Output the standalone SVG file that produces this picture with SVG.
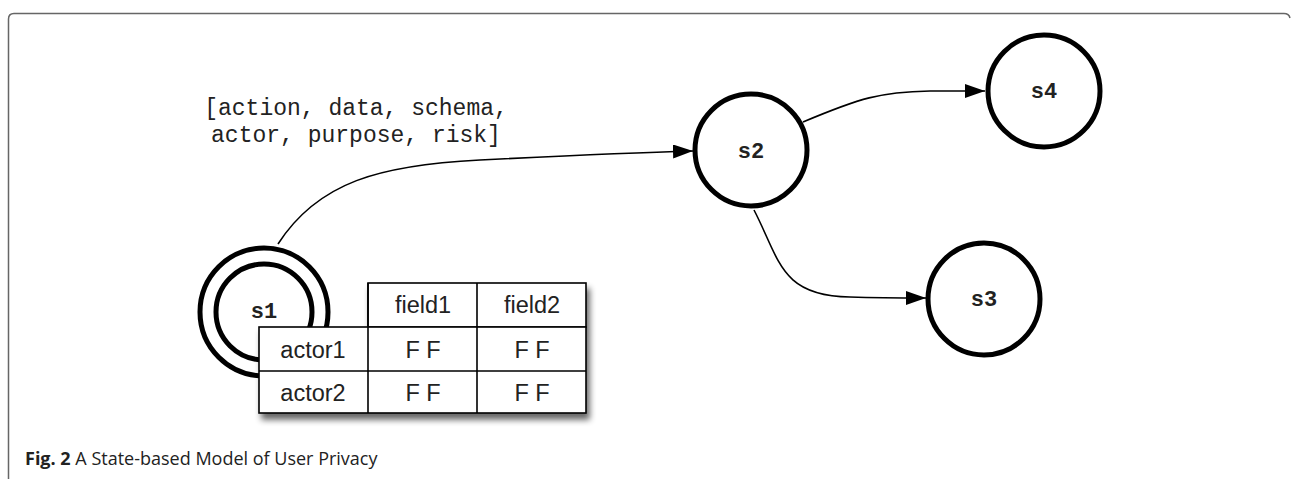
<svg xmlns="http://www.w3.org/2000/svg" width="1292" height="479" viewBox="0 0 1292 479">
<style>
.state{fill:#fff;stroke:#000;stroke-width:5}
.st{font-family:"Liberation Mono","Courier New",monospace;font-weight:bold;font-size:22px;fill:#222;text-anchor:middle}
.lbl{font-family:"Liberation Mono","Courier New",monospace;font-size:23px;fill:#222;text-anchor:middle}
.edge{fill:none;stroke:#000;stroke-width:1.6}
.cell{fill:#fff;stroke:#000;stroke-width:1.6}
.ct{font-family:"Liberation Sans",Arial,sans-serif;font-size:23.5px;fill:#222;text-anchor:middle}
.cap{font-family:"Open Sans","Noto Sans",sans-serif;font-size:18px;fill:#222}
</style>
<defs>
<marker id="arr" viewBox="0 0 20 14" refX="20" refY="7" markerWidth="20" markerHeight="14" markerUnits="userSpaceOnUse" orient="auto">
<path d="M0,0 L20,7 L0,14 Z" fill="#000"/>
</marker>
<filter id="shadow" x="-10%" y="-10%" width="130%" height="140%">
<feGaussianBlur in="SourceAlpha" stdDeviation="3"/>
<feOffset dx="3" dy="6" result="b"/>
<feComponentTransfer><feFuncA type="linear" slope="0.6"/></feComponentTransfer>
<feMerge><feMergeNode/><feMergeNode in="SourceGraphic"/></feMerge>
</filter>
</defs>
<rect width="1292" height="479" fill="#fff"/>
<path id="frame" d="M8.5,490 V19 Q8.5,13.5 14,13.5 H1284 Q1289,13.5 1290,18" fill="none" stroke="#666" stroke-width="1.5"/>

<g id="connectors">
<path class="edge" d="M278,244 C318,182 380,165 480,160 C560,156 620,153 693,151" marker-end="url(#arr)"/>
<path class="edge" d="M803,122 C860,98 880,92 930,91 C950,91 965,91 985,91" marker-end="url(#arr)"/>
<path class="edge" d="M754,210 C780,260 780,296 850,297 C880,298 900,298 926,298" marker-end="url(#arr)"/>
</g>

<g id="label">
<text class="lbl" x="356" y="115">[action, data, schema,</text>
<text class="lbl" x="356" y="142">actor, purpose, risk]</text>
</g>

<g id="s1">
<circle class="state" cx="264" cy="312" r="64"/>
<circle class="state" cx="264" cy="312" r="48"/>
<text class="st" x="264" y="318">s1</text>
</g>

<g id="table">
<g filter="url(#shadow)">
<rect x="368" y="283" width="218" height="44" class="cell"/>
<rect x="259" y="327" width="327" height="86" class="cell"/>
</g>
<path d="M477,283 V413 M368,283 V413 M259,371 H586" class="cell"/>
<text class="ct" x="423" y="313">field1</text>
<text class="ct" x="532" y="313">field2</text>
<text class="ct" x="313" y="358">actor1</text>
<text class="ct" x="423" y="358">F F</text>
<text class="ct" x="532" y="358">F F</text>
<text class="ct" x="313" y="401">actor2</text>
<text class="ct" x="423" y="401">F F</text>
<text class="ct" x="532" y="401">F F</text>
</g>

<g id="s2">
<circle class="state" cx="751" cy="150" r="56"/>
<text class="st" x="751" y="158">s2</text>
</g>
<g id="s4">
<circle class="state" cx="1044" cy="91" r="56"/>
<text class="st" x="1044" y="98">s4</text>
</g>
<g id="s3">
<circle class="state" cx="984" cy="299" r="56"/>
<text class="st" x="984" y="306">s3</text>
</g>

<text class="cap" x="25" y="465"><tspan font-weight="bold">Fig. 2</tspan> A State-based Model of User Privacy</text>
</svg>
